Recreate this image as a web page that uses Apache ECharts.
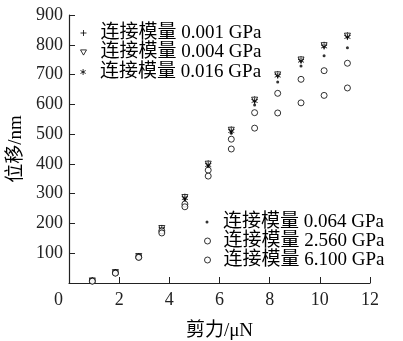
<!DOCTYPE html>
<html>
<head>
<meta charset="utf-8">
<script src="https://cdn.jsdelivr.net/npm/echarts@6/dist/echarts.min.js"></script>
<style>
html,body{margin:0;padding:0;background:#fff;}
#chart{width:403px;height:341px;}
</style>
</head>
<body>
<div id="chart"></div>
<script>
const shearForce = [0.93, 1.85, 2.78, 3.70, 4.62, 5.55, 6.47, 7.40, 8.32, 9.25, 10.17, 11.10];
const names = ['连接模量 0.001 GPa', '连接模量 0.004 GPa', '连接模量 0.016 GPa', '连接模量 0.064 GPa', '连接模量 2.560 GPa', '连接模量 6.100 GPa'];
const disp0001 = [8, 36, 90, 185, 290, 402, 516, 617, 702, 752, 800, 832];
const disp0004 = [7, 35, 89, 183, 287, 399, 513, 614, 699, 749, 797, 829];
const disp0016 = [7, 35, 88, 181, 285, 396, 510, 611, 696, 746, 794, 826];
const disp0064 = [7, 34, 88, 179, 280, 390, 503, 598, 675, 729, 763, 790];
const disp2560 = [7, 34, 87, 175, 265, 379, 483, 572, 637, 684, 713, 738];
const disp6100 = [6, 33, 86, 168, 256, 359, 450, 520, 571, 605, 630, 655];
const xTicks = [0, 2, 4, 6, 8, 10, 12];
const yTicks = [100, 200, 300, 400, 500, 600, 700, 800, 900];

const FONT = "'Liberation Serif', 'Times New Roman', 'Noto Sans CJK SC', serif";
const pair = arr => arr.map((v, i) => [shearForce[i], v]);

const plusPath = 'path://M5,0L5,10M0,5L10,5';
const starPath = 'path://M5,0L5,10M0.67,2.5L9.33,7.5M0.67,7.5L9.33,2.5';
const downTriPath = 'path://M0,0L10,0L5,8.66Z';

function mk(name, data, symbol, size, fill, extra) {
  return Object.assign({
    name: name,
    type: 'scatter',
    data: pair(data),
    symbol: symbol,
    symbolSize: size,
    itemStyle: { color: fill, borderColor: '#000', borderWidth: 1 },
    emphasis: { disabled: true },
    z: 2
  }, extra || {});
}

function leg(name, iconCenterX, rowCenterY, size, textStartX, fill) {
  const left = iconCenterX - size / 2;
  const pad = textStartX - (left + size + 5);
  return {
    data: [name],
    orient: 'vertical', left: left, top: rowCenterY - 10,
    itemWidth: size, itemHeight: size, padding: 0,
    itemStyle: { color: fill, borderColor: '#000', borderWidth: fill === '#000' ? 0 : 1 },
    textStyle: { fontFamily: FONT, fontSize: 19, color: '#000', padding: [0, 0, 0, pad], lineHeight: 20 },
    selectedMode: false
  };
}

const chart = echarts.init(document.getElementById('chart'), null, { renderer: 'canvas' });
chart.setOption({
  animation: false,
  backgroundColor: '#fff',
  textStyle: { fontFamily: FONT, color: '#000' },
  grid: { left: 69, right: 33, top: 15, bottom: 58, containLabel: false, outerBoundsMode: 'none' },
  xAxis: {
    type: 'value', min: 0, max: 12, interval: 2,
    name: '剪力/μN', nameLocation: 'middle', nameGap: 39,
    nameTextStyle: { fontFamily: FONT, fontSize: 19, color: '#000' },
    axisLine: { show: true, onZero: false, lineStyle: { color: '#222', width: 1.2 } },
    axisTick: { show: true, inside: true, length: 6, lineStyle: { color: '#222' } },
    axisLabel: { fontFamily: FONT, fontSize: 18, color: '#222', margin: 8, showMinLabel: false,
      formatter: v => xTicks.includes(v) ? String(v) : '' },
    splitLine: { show: false }
  },
  yAxis: {
    type: 'value', min: 0, max: 900, interval: 100,
    name: '位移/nm', nameLocation: 'middle', nameGap: 32, nameRotate: 90,
    nameTextStyle: { fontFamily: FONT, fontSize: 19, color: '#000' },
    axisLine: { show: true, onZero: false, lineStyle: { color: '#222', width: 1.2 } },
    axisTick: { show: true, inside: true, length: 6, lineStyle: { color: '#222' } },
    axisLabel: { fontFamily: FONT, fontSize: 18, color: '#222', margin: 6, showMinLabel: false,
      formatter: v => yTicks.includes(v) ? String(v) : '' },
    splitLine: { show: false }
  },
  legend: [
    leg(names[0], 83, 33, 6, 100, 'transparent'),
    leg(names[1], 83, 52.5, 6, 100, '#fff'),
    leg(names[2], 83, 72, 6, 100, 'transparent'),
    leg(names[3], 207, 222, 3, 223, '#000'),
    leg(names[4], 207, 241, 6, 223, '#fff'),
    leg(names[5], 207, 260, 6, 223, '#fff')
  ],
  graphic: [
    { type: 'text', left: 54, top: 291, style: { text: String(xTicks[0]), font: "18px " + FONT, fill: '#222' } }
  ],
  series: [
    mk(names[0], disp0001, plusPath, 6, 'transparent'),
    mk(names[1], disp0004, downTriPath, 6, '#fff'),
    mk(names[2], disp0016, starPath, 6, 'transparent'),
    mk(names[3], disp0064, 'circle', 3, '#000', { itemStyle: { color: '#000', borderWidth: 0 } }),
    mk(names[4], disp2560, 'circle', 6, '#fff'),
    mk(names[5], disp6100, 'circle', 6, '#fff')
  ]
});
</script>
</body>
</html>
